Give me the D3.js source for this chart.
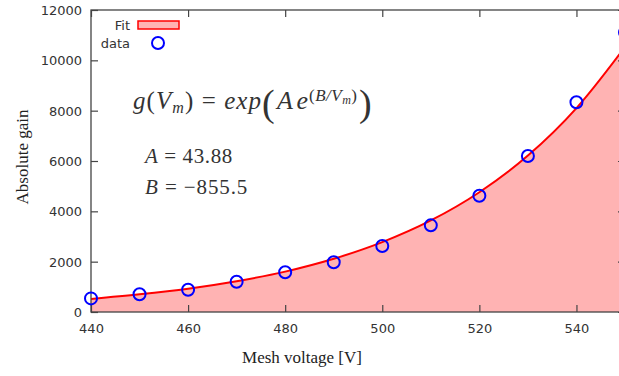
<!DOCTYPE html>
<html>
<head>
<meta charset="utf-8">
<script src="https://cdn.jsdelivr.net/npm/d3@7"></script>
<style>
  body { margin: 0; background: #fff; }
  svg { display: block; }
</style>
</head>
<body>
<div id="canvas"></div>
<script>
(function () {
  // measured gain at each mesh voltage
  var voltages = [440, 450, 460, 470, 480, 490, 500, 510, 520, 530, 540, 550];
  var gains = [540, 703, 886, 1204, 1577, 1975, 2622, 3444, 4621, 6199, 8332, 11113];
  // fit curve at the same voltages
  var fitGains = [520, 703, 926, 1223, 1604, 2115, 2777, 3638, 4760, 6215, 8103, 10534];
  var xTicks = [440, 460, 480, 500, 520, 540];
  var yTicks = [0, 2000, 4000, 6000, 8000, 10000, 12000];

  var width = 619;
  var height = 376;
  var left = 91, right = 625, top = 10, bottom = 312;
  var axisColor = '#444';
  var serif = 'Liberation Serif, serif';

  var svg = d3.select('#canvas').append('svg')
        .attr('width', width)
        .attr('height', height);

  var x = d3.scaleLinear().domain([440, 550]).range([left, right]);
  var y = d3.scaleLinear().domain([0, 12000]).range([bottom, top]);

  var fitData = voltages.map(function (v, i) { return {v: v, g: fitGains[i]}; });
  var pts = voltages.map(function (v, i) { return {v: v, g: gains[i]}; });

  // shaded area under the fit
  svg.append('path')
    .datum(fitData)
    .attr('fill', '#ffb3b3')
    .attr('d', d3.area()
      .curve(d3.curveMonotoneX)
      .x(function (d) { return x(d.v); })
      .y0(y(0))
      .y1(function (d) { return y(d.g); }));

  svg.append('path')
    .datum(fitData)
    .attr('fill', 'none')
    .attr('stroke', '#ff0000')
    .attr('stroke-width', 2)
    .attr('d', d3.line()
      .curve(d3.curveMonotoneX)
      .x(function (d) { return x(d.v); })
      .y(function (d) { return y(d.g); }));

  // frame
  svg.append('rect')
    .attr('x', left).attr('y', top)
    .attr('width', right - left).attr('height', bottom - top)
    .attr('fill', 'none')
    .attr('stroke', axisColor)
    .attr('stroke-width', 1.3);

  // axes, ticks point inward
  var xAxis = d3.axisBottom(x).tickValues(xTicks).tickSizeInner(-7).tickSizeOuter(0)
    .tickPadding(12).tickFormat(d3.format('d'));
  var yAxis = d3.axisLeft(y).tickValues(yTicks).tickSizeInner(-7).tickSizeOuter(0)
    .tickPadding(9).tickFormat(d3.format('d'));

  svg.append('g').attr('transform', 'translate(0,' + bottom + ')').call(xAxis);
  var gy = svg.append('g').attr('transform', 'translate(' + left + ',0)').call(yAxis);

  // mirrored ticks on top and right
  svg.append('g').attr('transform', 'translate(0,' + top + ')')
    .call(d3.axisTop(x).tickValues(xTicks).tickSizeInner(-7).tickSizeOuter(0).tickFormat(''));
  svg.append('g').attr('transform', 'translate(' + right + ',0)')
    .call(d3.axisRight(y).tickValues(yTicks).tickSizeInner(-7).tickSizeOuter(0).tickFormat(''));

  svg.selectAll('.domain').remove();
  svg.selectAll('.tick line').attr('stroke', axisColor).attr('stroke-width', 1.2);
  svg.selectAll('.tick text')
    .attr('fill', '#333')
    .style('font-family', 'DejaVu Sans, sans-serif')
    .style('font-size', '13px');
  gy.selectAll('.tick text').attr('dy', '0.35em');

  // data points
  svg.selectAll('.pt')
    .data(pts)
    .enter()
    .append('circle')
    .attr('class', 'pt')
    .attr('cx', function (d) { return x(d.v); })
    .attr('cy', function (d) { return y(d.g); })
    .attr('r', 6)
    .attr('fill', 'none')
    .attr('stroke', '#0000ff')
    .attr('stroke-width', 2);

  // legend
  var leg = svg.append('g')
    .style('font-family', 'DejaVu Sans, sans-serif')
    .style('font-size', '13px')
    .attr('fill', '#333');
  leg.append('text').attr('x', 130).attr('y', 30).attr('text-anchor', 'end').text('Fit');
  leg.append('rect').attr('x', 138).attr('y', 21).attr('width', 41).attr('height', 8)
    .attr('fill', '#ffb3b3').attr('stroke', '#ff0000').attr('stroke-width', 1.5);
  leg.append('text').attr('x', 130).attr('y', 48).attr('text-anchor', 'end').text('data');
  leg.append('circle').attr('cx', 158).attr('cy', 43).attr('r', 6)
    .attr('fill', 'none').attr('stroke', '#0000ff').attr('stroke-width', 2);

  // axis titles
  svg.append('text')
    .attr('x', 302).attr('y', 363)
    .attr('text-anchor', 'middle')
    .style('font-family', serif)
    .style('font-size', '17px')
    .attr('fill', '#222')
    .text('Mesh voltage [V]');

  svg.append('text')
    .attr('transform', 'translate(28,157) rotate(-90)')
    .attr('text-anchor', 'middle')
    .style('font-family', serif)
    .style('font-size', '17px')
    .attr('fill', '#222')
    .text('Absolute gain');

  // fit formula, pieces placed along the baseline
  function piece(px, py, size, italic, str) {
    return svg.append('text')
      .attr('x', px).attr('y', py)
      .style('font-family', serif)
      .style('font-size', size + 'px')
      .style('font-style', italic ? 'italic' : 'normal')
      .attr('fill', '#333')
      .text(str);
  }
  var eq = piece(133, 109, 25, false, '')
    .attr('textLength', 128).attr('lengthAdjust', 'spacing');
  eq.append('tspan').style('font-style', 'italic').text('g');
  eq.append('tspan').text('(');
  eq.append('tspan').style('font-style', 'italic').text('V');
  eq.append('tspan').style('font-style', 'italic').style('font-size', '16px').attr('dy', 4).text('m');
  eq.append('tspan').attr('dy', -4).text(') = ');
  eq.append('tspan').style('font-style', 'italic').text('exp');

  piece(262, 116, 38, false, '(');
  piece(277, 109, 26, true, 'Ae').attr('textLength', 31).attr('lengthAdjust', 'spacing');
  var sup = piece(309, 101, 17, false, '(')
    .attr('textLength', 48).attr('lengthAdjust', 'spacing');
  sup.append('tspan').style('font-style', 'italic').text('B/V');
  sup.append('tspan').style('font-style', 'italic').style('font-size', '12px').attr('dy', 3).text('m');
  sup.append('tspan').attr('dy', -3).text(')');
  piece(359, 116, 38, false, ')');

  var pa = piece(145, 163, 21, false, '').style('letter-spacing', '0.6px');
  pa.append('tspan').style('font-style', 'italic').text('A');
  pa.append('tspan').text(' = 43.88');

  var pb = piece(145, 194, 21, false, '').style('letter-spacing', '0.9px');
  pb.append('tspan').style('font-style', 'italic').text('B');
  pb.append('tspan').text(' = \u2212855.5');
})();
</script>
</body>
</html>
